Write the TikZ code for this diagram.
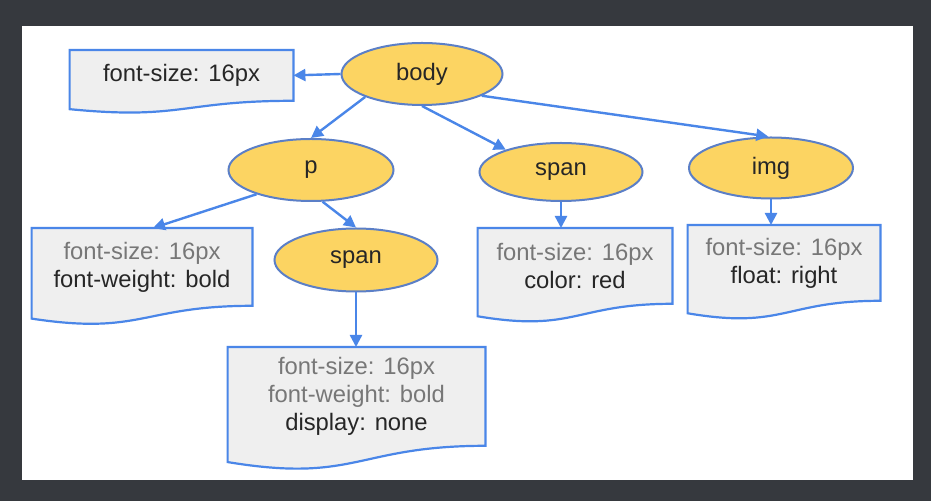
\documentclass[tikz,border=0pt]{standalone}
\usepackage{fontspec}
\setmainfont{Liberation Sans}
\usetikzlibrary{shapes.geometric,arrows.meta,calc,backgrounds}
\definecolor{frame}{HTML}{36393E}
\definecolor{elemfill}{HTML}{FCD462}
\definecolor{elemline}{HTML}{5B7FC7}
\definecolor{linkblue}{HTML}{4A86E8}
\definecolor{rulefill}{HTML}{EFEFEF}
\definecolor{inherited}{HTML}{777777}
\newcommand{\inh}[1]{\textcolor{inherited}{#1}}

\begin{document}
\begin{tikzpicture}[x=0.5pt, y=-0.5pt]
  \tikzset{
    elem/.style={ellipse, draw=elemline, line width=1pt, fill=elemfill,
      font=\fontsize{11.9}{14}\selectfont, text=black!85},
    rules/.style={rectangle, align=center, anchor=north,
      font=\fontsize{11.9}{14}\selectfont, text=black!85},
    docline/.style={draw=linkblue, line width=1.1pt, fill=rulefill},
    link/.style={-{Triangle[length=6pt,width=6pt]}, draw=linkblue, line width=1.2pt}
  }

  % elements
  \node[elem, minimum width=80.5pt, minimum height=31pt] (body) at (422,74) {body};
  \node[elem, minimum width=82.5pt, minimum height=31pt] (p) at (311,170) {p};
  \node[elem, minimum width=81.5pt, minimum height=31.5pt] (p-span) at (356,260) {span};
  \node[elem, minimum width=81.5pt, minimum height=29pt] (span) at (561,172) {span};
  \node[elem, minimum width=82pt, minimum height=30.5pt] (img) at (771,168) {img};

  % computed styles
  \node[rules, minimum width=111.5pt, minimum height=25pt] (body-rules) at (181.5,50)
    {font-size: 16px};
  \node[rules, minimum width=110pt, minimum height=38.5pt] (p-rules) at (142,228)
    {\inh{font-size: 16px}\\font-weight: bold};
  \node[rules, minimum width=128.5pt, minimum height=49pt] (p-span-rules) at (356.5,347)
    {\inh{font-size: 16px}\\\inh{font-weight: bold}\\display: none};
  \node[rules, minimum width=97pt, minimum height=37.5pt] (span-rules) at (575,228)
    {\inh{font-size: 16px}\\color: red};
  \node[rules, minimum width=96pt, minimum height=37.5pt] (img-rules) at (784,225)
    {\inh{font-size: 16px}\\float: right};

  \begin{pgfonlayer}{background}
    \fill[frame] (0,0) rectangle (931,501);
    \fill[white] (22,26) rectangle (913,480);
    % document outlines with the wavy bottom
    \foreach \doc in {body-rules,p-rules,p-span-rules,span-rules,img-rules}
      \path[docline] let \p1=(\doc.north), \p2=(\doc.south), \n1={\y1-\y2} in
        (\doc.north west) -- (\doc.north east) -- (\doc.south east)
        .. controls (\doc.south) and ([yshift=-0.381*\n1]\doc.south)
        .. ([yshift=-0.1646*\n1]\doc.south west) -- cycle;
  \end{pgfonlayer}

  \draw[link] (body.west) -- (body-rules.east);
  \draw[link] (body.202) -- (p.north);
  \draw[link] (body.south) -- (span.158);
  \draw[link] (body.-20) -- (img.95);
  \draw[link] (p.204) -- ([xshift=5.5pt]p-rules.north);
  \draw[link] (p.-70) -- (p-span.north);
  \draw[link] (p-span.south) -- (p-span.south |- p-span-rules.north);
  \draw[link] (span.south) -- (span.south |- span-rules.north);
  \draw[link] (img.south) -- (img.south |- img-rules.north);
\end{tikzpicture}
\end{document}
